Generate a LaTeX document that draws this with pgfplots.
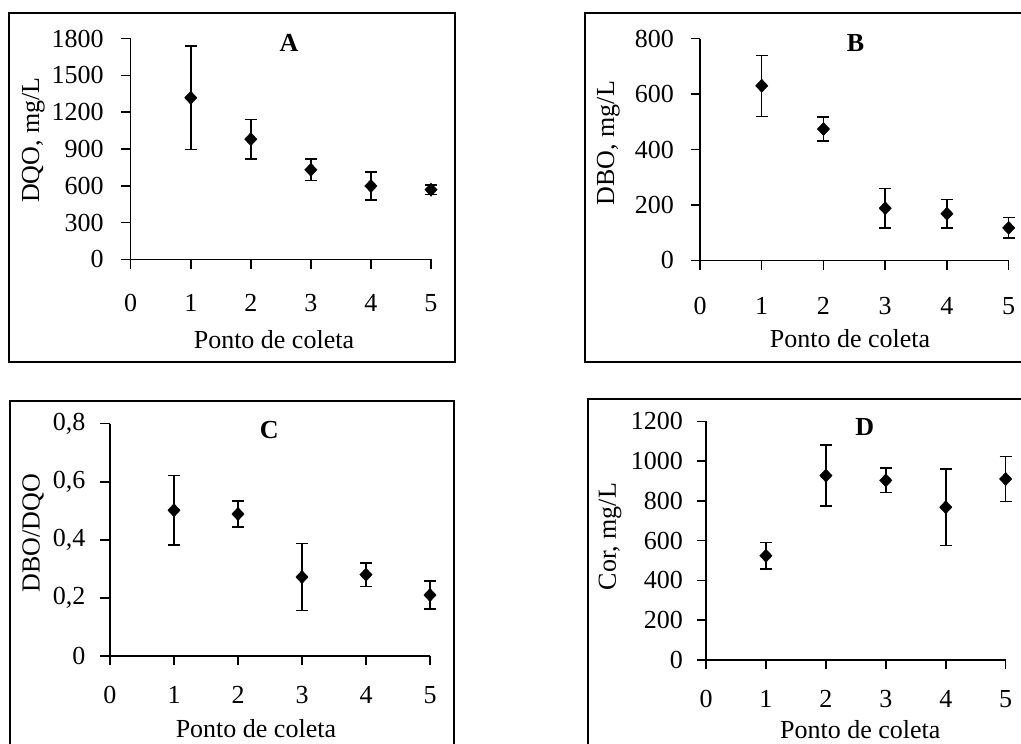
\documentclass[border=0pt]{standalone}
\usepackage{pgfplots}
\pgfplotsset{compat=1.18}
\usepackage{fontspec}
\setmainfont{Liberation Serif}
\newcommand{\fs}{\fontsize{26}{31}\selectfont}
\begin{document}
\begin{tikzpicture}
\useasboundingbox (0pt,0pt) rectangle (1021pt,744pt);
\pgfplotsset{
  panel/.style={
    scale only axis,
    xmin=0,xmax=5, ymin=0,
    axis x line*=bottom, axis y line*=left,
    axis line style={line width=1.5pt, black},
    every tick/.style={line width=1.5pt, black},
    tick align=outside,
    major tick length=9.5pt,
    xtick={0,...,5},
    /pgf/number format/assume math mode=true,
    /pgf/number format/1000 sep={},
    tick label style={font=\fs},
    label style={font=\fs},
    xlabel={Ponto de coleta},
    clip=false,
  },
  ser/.style={only marks, mark=diamond*, mark size=6.6pt, black,
    mark options={xscale=1.25},
    error bars/.cd, y dir=both, y explicit,
    error bar style={line width=1.5pt, black},
    error mark options={line width=1.5pt, mark size=6pt, black, rotate=90}},
}
% frames
\draw[line width=2pt] (9pt,382pt) rectangle (455pt,731.3pt);
\draw[line width=2pt] (1030pt,731.3pt) -- (585pt,731.3pt) -- (585pt,382pt) -- (1030pt,382pt);
\draw[line width=2pt] (454pt,-10pt) -- (454pt,343.3pt) -- (10pt,343.3pt) -- (10pt,-10pt);
\draw[line width=2pt] (1030pt,345pt) -- (588.3pt,345pt) -- (588.3pt,-10pt);

% A
\begin{axis}[panel, at={(130.7pt,484.7pt)}, anchor=south west,
  width=300.3pt, height=220.6pt, ymax=1800, ytick={0,300,...,1800},
  xticklabel style={yshift=-22pt}, yticklabel style={xshift=-14pt},
  ylabel={DQO, mg/L},
  ylabel style={at={(axis description cs:-0.3243,0.541)}, anchor=center},
  xlabel style={at={(axis description cs:0.477,-0.3627)}, anchor=center}]
\addplot[ser] coordinates {
 (1,1318) +- (0,422)
 (2,980) +- (0,162)
 (3,730) +- (0,88)
 (4,598) +- (0,114)
 (5,568) +- (0,40)
};
\node[font=\fs\bfseries] at (rel axis cs:0.527,0.982) {A};
\end{axis}

% B
\begin{axis}[panel, at={(700pt,483.7pt)}, anchor=south west,
  width=308.7pt, height=221.6pt, ymax=800, ytick={0,200,...,800},
  xticklabel style={yshift=-24pt}, yticklabel style={xshift=-13pt},
  ylabel={DBO, mg/L},
  ylabel style={at={(axis description cs:-0.297,0.529)}, anchor=center},
  xlabel style={at={(axis description cs:0.486,-0.352)}, anchor=center}]
\addplot[ser] coordinates {
 (1,630) +- (0,110)
 (2,474) +- (0,43)
 (3,188) +- (0,72)
 (4,168) +- (0,52)
 (5,117) +- (0,37)
};
\node[font=\fs\bfseries] at (rel axis cs:0.504,0.982) {B};
\end{axis}

% C
\begin{axis}[panel, at={(110pt,88pt)}, anchor=south west,
  width=320pt, height=232.3pt, ymax=0.8, ytick={0,0.2,0.4,0.6,0.8},
  /pgf/number format/use comma, /pgf/number format/fixed,
  /pgf/number format/precision=1,
  xticklabel style={yshift=-17.5pt}, yticklabel style={xshift=-11.5pt},
  ylabel={DBO/DQO},
  ylabel style={at={(axis description cs:-0.240,0.529)}, anchor=center},
  xlabel style={at={(axis description cs:0.456,-0.311)}, anchor=center}]
\addplot[ser] coordinates {
 (1,0.502) +- (0,0.12)
 (2,0.489) +- (0,0.044)
 (3,0.272) +- (0,0.115)
 (4,0.280) +- (0,0.04)
 (5,0.210) +- (0,0.048)
};
\node[font=\fs\bfseries] at (rel axis cs:0.498,0.973) {C};
\end{axis}

% D
\begin{axis}[panel, at={(706pt,84pt)}, anchor=south west,
  width=299.7pt, height=238.7pt, ymax=1200, ytick={0,200,...,1200},
  xticklabel style={yshift=-17pt}, yticklabel style={xshift=-10pt},
  ylabel={Cor, mg/L},
  ylabel style={at={(axis description cs:-0.320,0.517)}, anchor=center},
  xlabel style={at={(axis description cs:0.515,-0.293)}, anchor=center}]
\addplot[ser] coordinates {
 (1,524) +- (0,67)
 (2,927) +- (0,153)
 (3,903) +- (0,62)
 (4,768) +- (0,192)
 (5,910) +- (0,112)
};
\node[font=\fs\bfseries] at (rel axis cs:0.53,0.977) {D};
\end{axis}
\end{tikzpicture}
\end{document}
